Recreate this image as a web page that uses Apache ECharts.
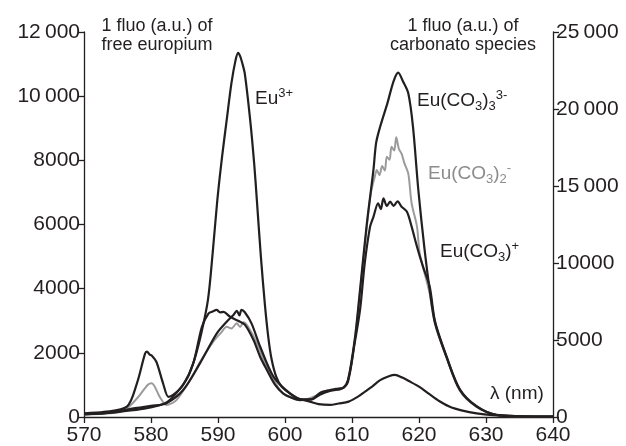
<!DOCTYPE html>
<html>
<head>
<meta charset="utf-8">
<script src="https://cdn.jsdelivr.net/npm/echarts@6/dist/echarts.min.js"></script>
<style>
  html, body { margin: 0; padding: 0; background: #fff; }
  #chart { width: 626px; height: 446px; }
</style>
</head>
<body>
<div id="chart"></div>
<script>
// free europium, left axis
const euFreeX = [570, 573, 576, 579, 581, 582.5, 584, 585.5, 586.5, 587.5, 588.5, 589.2, 589.9, 590.6, 591.3, 592, 592.6, 593, 593.3, 593.6, 594, 594.8, 595.4, 595.8, 596.4, 597, 597.5, 598, 598.7, 599.5, 600.7, 602, 603.7, 605, 606.7, 608, 609.5, 611, 612, 613, 614.2, 615.5, 616.4, 617.5, 618.5, 620, 621.5, 623, 624.6, 626.5, 628.6, 631, 634, 640];
const euFreeY = [90, 120, 180, 260, 350, 480, 800, 1250, 1800, 2600, 3650, 5100, 6760, 8100, 9260, 10400, 11100, 11350, 11250, 11050, 10700, 9260, 7900, 6760, 5000, 3500, 2500, 1800, 1250, 950, 745, 580, 480, 400, 375, 420, 480, 650, 800, 950, 1150, 1270, 1310, 1230, 1120, 945, 720, 500, 320, 200, 115, 60, 30, 15];

// carbonato species, right axis
const tris3X = [570, 573, 576.4, 577.9, 579.1, 579.4, 579.8, 580.1, 580.8, 581.8, 582.6, 583.3, 584.8, 586.3, 587.6, 588.6, 589.2, 589.8, 590.3, 590.8, 591.8, 593, 594, 595.3, 596.3, 597.3, 598.5, 599.7, 601, 602.2, 604, 605.2, 606.7, 608, 608.7, 609.4, 610.4, 611.2, 612.2, 613.2, 613.6, 614.2, 615.3, 616.2, 616.9, 617.6, 618.4, 619.1, 619.9, 620.8, 621.6, 622.4, 624.1, 626.1, 628.6, 631.6, 635, 640];
const tris3Y = [240, 330, 670, 2190, 4100, 4240, 4050, 4000, 3590, 2190, 1310, 1430, 2080, 3480, 5860, 6730, 6850, 6950, 6800, 6830, 6510, 6250, 6000, 5000, 3900, 3050, 2100, 1540, 1250, 1100, 1150, 1560, 1750, 1850, 1900, 2400, 5000, 8250, 12500, 16040, 17800, 18850, 20400, 21800, 22360, 21800, 21020, 18850, 14740, 11000, 8250, 6100, 3900, 1750, 670, 130, 40, 20];

const bisX = [570, 574, 576, 578, 579.5, 580.1, 581.3, 582.3, 583.8, 585.8, 587.8, 589.3, 590.5, 591.3, 592, 592.8, 593.3, 593.8, 594.5, 595.8, 597, 598.3, 599.7, 601, 603, 605.2, 606.7, 608.5, 609.4, 610.4, 611.2, 612, 612.8, 613.4, 613.7, 614.1, 614.5, 614.9, 615.2, 615.6, 615.9, 616.3, 616.6, 617, 617.4, 617.8, 618.4, 618.9, 619.7, 620.1, 621.1, 621.6, 622.4, 624.1, 626.1, 628.6, 631.6, 640];
const bisY = [170, 250, 420, 1250, 2080, 2190, 1310, 780, 1100, 2400, 3920, 4900, 5500, 5860, 5750, 6080, 5850, 6150, 5860, 4800, 3500, 2400, 1540, 1250, 1150, 1500, 1700, 1850, 2350, 4900, 8100, 11500, 14500, 15600, 16040, 15700, 16300, 16000, 16900, 16700, 17550, 17300, 18160, 17400, 17100, 16500, 15800, 13880, 12360, 10630, 8900, 8000, 6000, 3850, 1700, 650, 120, 20];

const monoX = [570, 574, 577.4, 580, 582.3, 584.8, 587.3, 589.8, 591.3, 592.3, 592.8, 593.2, 593.5, 594, 595, 596.3, 598.3, 600.7, 602.5, 604, 605.2, 606.7, 608.5, 609.4, 610.4, 611.2, 611.9, 612.7, 613.2, 613.9, 614.3, 614.7, 615.2, 615.7, 616.2, 616.8, 617.4, 618.2, 618.9, 619.7, 620.6, 621.6, 622.4, 624.1, 626.1, 628.6, 631.6, 640];
const monoY = [170, 280, 560, 720, 900, 1750, 3480, 5420, 6190, 6620, 6900, 6600, 6950, 6800, 6080, 4560, 2600, 1540, 1150, 1150, 1450, 1700, 1850, 2300, 4800, 6950, 9980, 12360, 13000, 13880, 13500, 14200, 13700, 13980, 13700, 14000, 13650, 13330, 12360, 11060, 9760, 8460, 6200, 3950, 1800, 700, 140, 20];

const leftLabels = {12000: '12\u2009000', 10000: '10\u2009000'};
const rightLabels = {25000: '25\u2009000', 20000: '20\u2009000', 15000: '15\u2009000'};

function zip(xs, ys) {
  return xs.map(function (x, i) { return [x, ys[i]]; });
}

const ink = '#231f20';
const grey = '#8c8c8c';
const font = 'Liberation Sans, Arial, sans-serif';

const myChart = echarts.init(document.getElementById('chart'));

const axisCommon = {
  axisLine: { show: true, onZero: false, lineStyle: { color: ink, width: 1.3 } },
  axisTick: { show: true, length: 6, lineStyle: { color: ink, width: 1.3 } },
  axisLabel: { color: ink, fontSize: 21, fontFamily: font },
  splitLine: { show: false }
};

function curve(name, data, color, yIndex, width) {
  return {
    name: name,
    type: 'line',
    yAxisIndex: yIndex,
    data: data,
    showSymbol: false,
    smooth: 0.3,
    lineStyle: { color: color, width: width },
    z: color === ink ? 3 : 2
  };
}

// sub/superscript text styles for the species labels
function richFor(color) {
  return {
    m: { fontSize: 19, fontFamily: font, fill: color },
    sub: { fontSize: 13, fontFamily: font, fill: color, padding: [11, 0, 0, 0] },
    sup: { fontSize: 13, fontFamily: font, fill: color, padding: [0, 0, 11, 0] }
  };
}

const option = {
  animation: false,
  grid: { left: 84, right: 73, top: 32, bottom: 29, containLabel: false },
  xAxis: Object.assign({}, axisCommon, {
    type: 'value', min: 570, max: 640, interval: 10,
    axisLabel: Object.assign({}, axisCommon.axisLabel, { margin: 8 })
  }),
  yAxis: [
    Object.assign({}, axisCommon, {
      type: 'value', position: 'left', min: 0, max: 12000, interval: 2000,
      axisLabel: Object.assign({}, axisCommon.axisLabel, {
        margin: 4,
        formatter: function (v) { return leftLabels[v] || String(v); }
      })
    }),
    Object.assign({}, axisCommon, {
      type: 'value', position: 'right', min: 0, max: 25000, interval: 5000,
      axisLabel: Object.assign({}, axisCommon.axisLabel, {
        margin: 3,
        formatter: function (v) { return rightLabels[v] || String(v); }
      })
    })
  ],
  series: [
    curve('Eu(CO3)2-', zip(bisX, bisY), '#9b9b9b', 1, 2),
    curve('Eu3+', zip(euFreeX, euFreeY), ink, 0, 2.2),
    curve('Eu(CO3)3 3-', zip(tris3X, tris3Y), ink, 1, 2.2),
    curve('Eu(CO3)+', zip(monoX, monoY), ink, 1, 2.2)
  ],
  graphic: [
    { type: 'text', x: 157, y: 17, style: { text: '1 fluo (a.u.) of\nfree europium', fill: ink, font: '18px ' + font, lineHeight: 19, textAlign: 'center' } },
    { type: 'text', x: 463, y: 17, style: { text: '1 fluo (a.u.) of\ncarbonato species', fill: ink, font: '18px ' + font, lineHeight: 19, textAlign: 'center' } },
    { type: 'text', left: 255, top: 87, style: { text: '{m|Eu}{sup|3+}', rich: richFor(ink) } },
    { type: 'text', left: 417, top: 89, style: { text: '{m|Eu(CO}{sub|3}{m|)}{sub|3}{sup|3-}', rich: richFor(ink) } },
    { type: 'text', left: 428, top: 162, style: { text: '{m|Eu(CO}{sub|3}{m|)}{sub|2}{sup|-}', rich: richFor(grey) } },
    { type: 'text', left: 440, top: 240, style: { text: '{m|Eu(CO}{sub|3}{m|)}{sup|+}', rich: richFor(ink) } },
    { type: 'text', left: 490, top: 384, style: { text: '\u03bb (nm)', fill: ink, font: '19px ' + font } }
  ]
};

myChart.setOption(option);
</script>
</body>
</html>
